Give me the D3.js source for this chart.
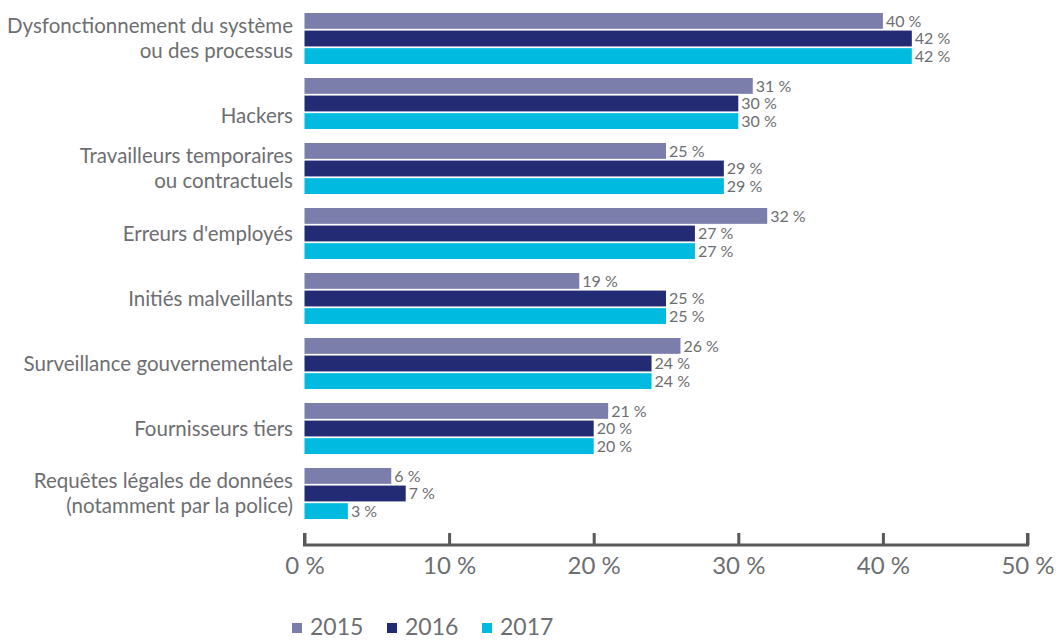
<!DOCTYPE html>
<html>
<head>
<meta charset="utf-8">
<script src="https://cdn.jsdelivr.net/npm/d3@7"></script>
<style>
  html, body { margin: 0; padding: 0; background: #fff; }
  svg { display: block; }
  text { font-family: "Lato", "Open Sans", sans-serif; fill: #6d6e71; }
</style>
</head>
<body>
<svg id="chart" width="1059" height="641"></svg>
<script>
// Risk sources, each label split into its display lines
const categories = [
  ["Dysfonctionnement du système", "ou des processus"],
  ["", "Hackers"],
  ["Travailleurs temporaires", "ou contractuels"],
  ["Erreurs d'employés"],
  ["Initiés malveillants"],
  ["Surveillance gouvernementale"],
  ["Fournisseurs tiers"],
  ["Requêtes légales de données", "(notamment par la police)"]
];
const years = ["2015", "2016", "2017"];
const values2015 = [40, 31, 25, 32, 19, 26, 21, 6];
const values2016 = [42, 30, 29, 27, 25, 24, 20, 7];
const values2017 = [42, 30, 29, 27, 25, 24, 20, 3];
const colors = ["#7b7daa", "#232b74", "#00badf"];
const xTicks = [0, 10, 20, 30, 40, 50];

const series = [values2015, values2016, values2017];
const catKeys = categories.map(c => c.join(" ").trim());

const svg = d3.select("#chart");
const margin = { left: 304.5, right: 31.5 };
const width = 1059;

const x = d3.scaleLinear().domain([0, 50]).range([margin.left, width - margin.right]);
const y0 = d3.scaleBand().domain(catKeys).range([6, 526])
  .paddingInner(0.215).paddingOuter(0.1075);
const y1 = d3.scaleBand().domain(years).range([0, y0.bandwidth()]).paddingInner(0.1);
const color = d3.scaleOrdinal().domain(years).range(colors);

const fmt = v => v + "\u00a0%";

// Bars and value labels
const groups = svg.append("g").selectAll("g")
  .data(catKeys)
  .join("g")
  .attr("transform", d => `translate(0,${y0(d)})`);

groups.each(function (key, i) {
  const g = d3.select(this);
  const rows = years.map((yr, j) => ({ yr, v: series[j][i] }));
  g.selectAll("rect").data(rows).join("rect")
    .attr("x", x(0))
    .attr("y", d => y1(d.yr))
    .attr("width", d => x(d.v) - x(0))
    .attr("height", y1.bandwidth())
    .attr("fill", d => color(d.yr));
  g.selectAll("text.val").data(rows).join("text")
    .attr("class", "val")
    .attr("x", d => x(d.v) + 3)
    .attr("y", d => y1(d.yr) + y1.bandwidth() / 2)
    .attr("dy", "0.36em")
    .style("font-size", "16px")
    .text(d => fmt(d.v));
});

// Category labels
const lineH = 25;
svg.append("g").selectAll("text")
  .data(categories)
  .join("text")
  .attr("text-anchor", "end")
  .style("font-size", "20.5px")
  .each(function (lines, i) {
    const cy = y0(catKeys[i]) + y0.bandwidth() / 2;
    const t = d3.select(this);
    lines.forEach((ln, k) => {
      t.append("tspan")
        .attr("x", 293)
        .attr("y", cy + (k - (lines.length - 1) / 2) * lineH)
        .attr("dy", "0.36em")
        .text(ln);
    });
  });

// X axis
const axis = d3.axisBottom(x)
  .tickValues(xTicks)
  .tickFormat(fmt)
  .tickSize(-12)
  .tickPadding(0);
const ax = svg.append("g").attr("transform", "translate(0,545)").call(axis);
ax.select(".domain").attr("stroke", "#595959").attr("stroke-width", 3)
  .attr("d", `M${x(0)},-12V0H${x(50)}V-12`);
ax.selectAll(".tick line").attr("stroke", "#595959").attr("stroke-width", 3);
ax.selectAll(".tick text")
  .attr("y", 20)
  .attr("dy", "0.36em")
  .style("font-size", "24px")
  .attr("fill", "#6d6e71");

// Legend
const legend = svg.append("g").attr("transform", "translate(292,627)");
const legX = d3.scalePoint().domain(years).range([0, 190]);
const items = legend.selectAll("g").data(years).join("g")
  .attr("transform", d => `translate(${legX(d)},0)`);
items.append("rect")
  .attr("x", 0).attr("y", -4)
  .attr("width", 10).attr("height", 10)
  .attr("fill", d => color(d));
items.append("text")
  .attr("x", 18).attr("y", 0).attr("dy", "0.36em")
  .style("font-size", "23px")
  .text(d => d);
</script>
</body>
</html>
